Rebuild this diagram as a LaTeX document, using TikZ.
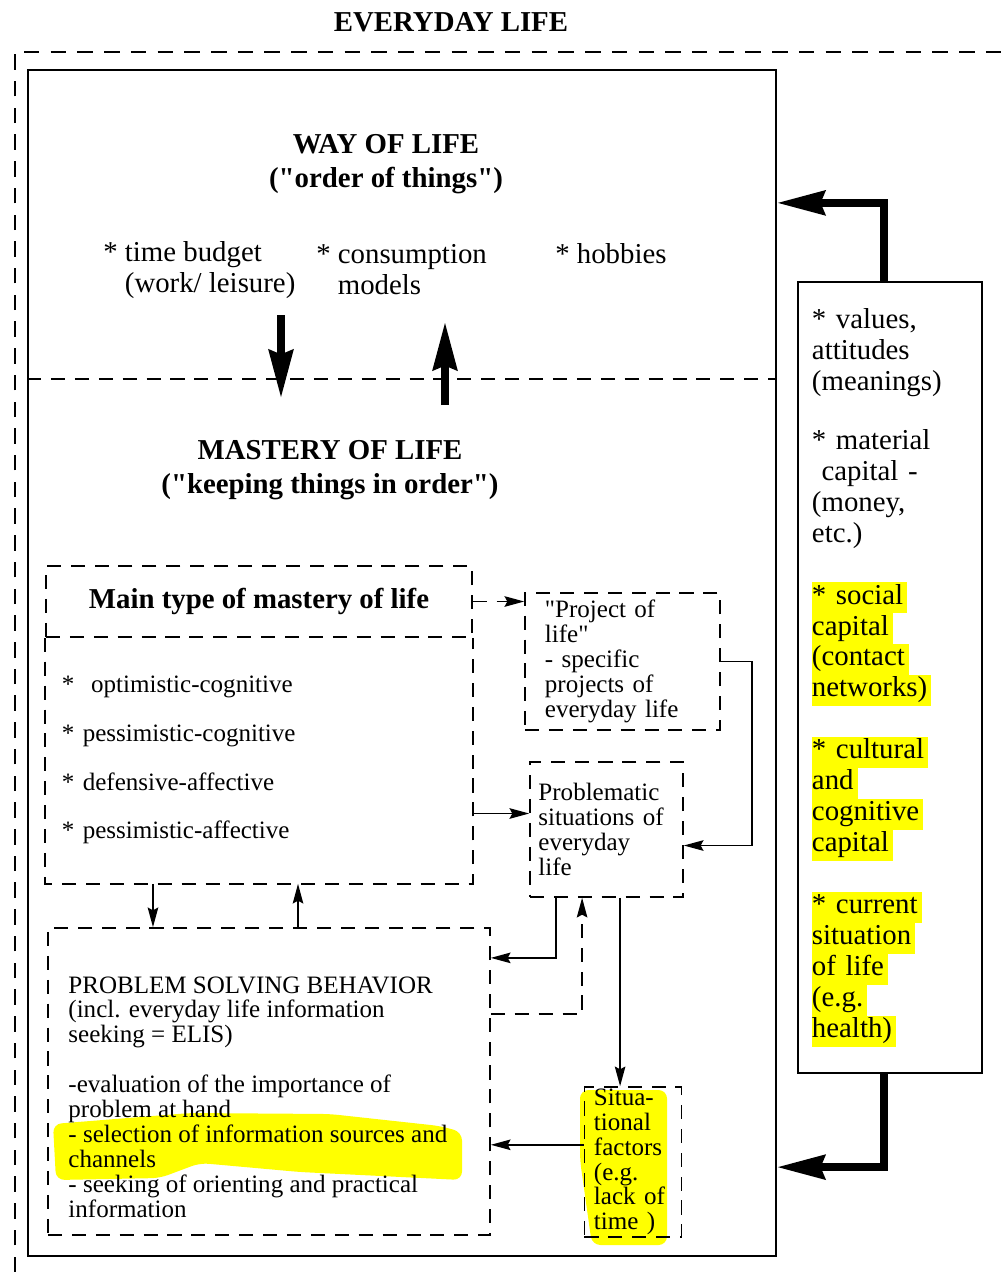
\documentclass[tikz,border=0pt]{standalone}
\usepackage{fontspec}
\setmainfont{Liberation Serif}[Ligatures=TeXOff]
\usepackage{xcolor}
\usetikzlibrary{arrows.meta,positioning,calc}

\definecolor{hlyellow}{RGB}{255,255,0}
\newcommand{\hl}[1]{{\setlength{\fboxsep}{0pt}\colorbox{hlyellow}{\strut #1\kern3pt}}}
\newcommand{\bodyfont}{\fontsize{17.8}{17.7}\selectfont}
\newcommand{\bigfont}{\fontsize{20.5}{22}\selectfont}

\begin{document}
\begin{tikzpicture}[
    x=0.025cm, y=-0.025cm,
    frame/.style={rectangle, draw, line width=1.2pt, inner sep=0pt},
    dashbox/.style={rectangle, draw, line width=1.1pt, dash pattern=on 10pt off 7pt, inner sep=0pt, align=left, font=\bodyfont},
    dashline/.style={line width=1.1pt, dash pattern=on 10pt off 7pt},
    link/.style={-{Stealth[length=14pt,width=7.5pt,inset=2pt]}, line width=1.1pt},
    bigarrow/.style={-{Stealth[length=34pt,width=17pt,inset=3pt]}, line width=5.5pt},
    heading/.style={font=\bfseries\fontsize{20.5}{24}\selectfont, align=center},
    lifeitem/.style={font=\bigfont, align=left, inner sep=0pt}
]
    \useasboundingbox (0,0) rectangle (1002,1272);

    % marker highlights
    \fill[hlyellow, rounded corners=6pt] (53,1124) -- (190,1113) -- (330,1114) -- (440,1126) -- (462,1132) -- (462,1180) -- (300,1172) -- (200,1163) -- (160,1178) -- (56,1180) -- cycle;
    \fill[hlyellow, rounded corners=6pt] (580,1090) -- (667,1090) -- (667,1245) -- (592,1245) -- (580,1160) -- cycle;

    \node[heading] (everyday) at (451,22) {EVERYDAY LIFE};
    \draw[dashline, dash pattern=on 11pt off 8pt] (15,1272) -- (15,52) -- (1002,52);

    \node[frame, minimum width=18.7cm, minimum height=29.65cm] (life) at (402,663) {};
    \draw[dashline] (life.west |- 0,379) -- (life.east |- 0,379);

    \node[heading] (way) at (386,164) {WAY OF LIFE\\("order of things")};
    \node[lifeitem, anchor=west] (budget) at (103,270) {* time budget\\\hphantom{* }(work/ leisure)};
    \node[lifeitem, anchor=west] (consume) at (316,270) {* consumption\\\hphantom{* }models};
    \node[lifeitem, anchor=west] (hobbies) at (555,254) {* hobbies};

    \coordinate (downtop) at (281,315);
    \coordinate (downend) at (281,398);
    \coordinate (uptop) at (445,322);
    \coordinate (upend) at (445,405);
    \draw[bigarrow] (downtop) -- (downend);
    \draw[bigarrow] (upend) -- (uptop);

    \node[heading] (mastery) at (330,470) {MASTERY OF LIFE\\("keeping things in order")};

    \node[dashbox, minimum width=10.65cm, minimum height=1.775cm, font=\bfseries\bigfont, align=center] (maintype) at (259,601.5) {Main type of mastery of life};
    \node[dashbox, draw=none, minimum width=10.65cm, minimum height=6.15cm, text width=9.85cm, font=\fontsize{17.8}{34.7}\selectfont] (types) at (259,760)
        {*\ \ optimistic-cognitive\\{}* pessimistic-cognitive\\{}* defensive-affective\\{}* pessimistic-affective};
    \draw[dashline] (maintype.south west) -- (types.south west) -- (types.south east) -- (maintype.south east);

    \node[dashbox, minimum width=4.875cm, minimum height=3.425cm, text width=3.875cm] (project) at (622.5,661.5)
        {"Project of\\life"\\- specific\\projects of\\everyday life};
    \node[dashbox, minimum width=3.825cm, minimum height=3.375cm, text width=3.4cm] (problem) at (606.5,829.5)
        {Problematic\\situations of\\everyday\\life};

    \node[dashbox, minimum width=11.05cm, minimum height=7.675cm] (solving) at (269,1081.5) {};
    \node[below right=1.225cm and 0.525cm of solving.north west, inner sep=0pt, align=left, font=\bodyfont] (solvingtext)
        {PROBLEM SOLVING BEHAVIOR\\(incl. everyday life information\\seeking = ELIS)\\[17.7pt]-evaluation of the importance of\\problem at hand\\- selection of information sources and\\channels\\- seeking of orienting and practical\\information};

    \node[dashbox, minimum width=2.425cm, minimum height=3.75cm, text width=1.95cm] (situational) at (633,1162)
        {Situa-\\tional\\factors\\(e.g.\\lack of\\time )};

    \node[frame, minimum width=4.6cm, minimum height=19.775cm, text width=3.9cm, align=left, font=\bigfont] (capital) at (890,677.5)
        {* values,\\attitudes\\(meanings)\\[20pt]{}* material\\\ capital -\\(money,\\etc.)\\[22pt]\hl{* social}\\\hl{capital}\\\hl{(contact}\\\hl{networks)}\\[22pt]\hl{* cultural}\\\hl{and}\\\hl{cognitive}\\\hl{capital}\\[22pt]\hl{* current}\\\hl{situation}\\\hl{of life}\\\hl{(e.g.}\\\hl{health)}};

    \draw[link, dashline] (maintype.east) -- (maintype.east -| project.west);
    \draw[link] ([yshift=0.4cm]problem.west -| types.east) -- ([yshift=0.4cm]problem.west);
    \draw[link] (project.east) -- ++(0.775cm,0) |- ([yshift=-0.4cm]problem.east);
    \draw[link] ([xshift=-2.65cm]types.south) -- ([xshift=-2.65cm]types.south |- solving.north);
    \draw[link] ([xshift=0.975cm]types.south |- solving.north) -- ([xshift=0.975cm]types.south);
    \draw[link] ([xshift=-1.26cm]problem.south) |- ([yshift=3.09cm]solving.east);
    \draw[link, dashline] ([yshift=1.69cm]solving.east) -| ([xshift=-0.61cm]problem.south);
    \draw[link] ([xshift=0.34cm]problem.south) -- ([xshift=0.34cm]problem.south |- situational.north);
    \draw[link] ([yshift=0.43cm]situational.west) -- ([yshift=0.43cm]situational.west -| solving.east);

    \draw[bigarrow] ([xshift=-0.15cm]capital.north) |- ([yshift=11.5cm]life.east);
    \draw[bigarrow] ([xshift=-0.15cm]capital.south) |- ([yshift=-12.6cm]life.east);
\end{tikzpicture}
\end{document}
